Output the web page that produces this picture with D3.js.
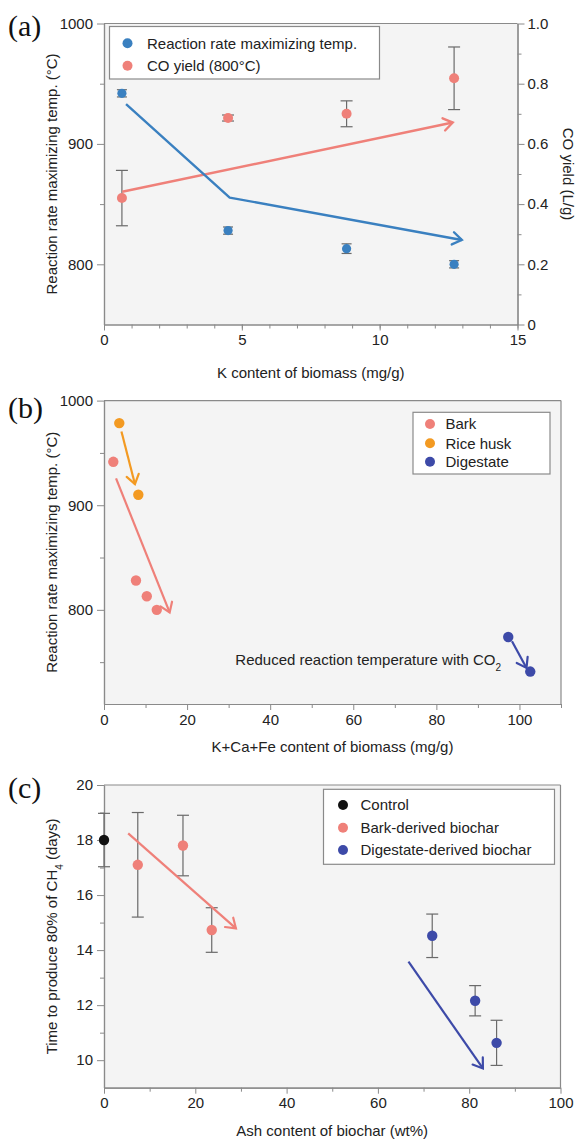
<!DOCTYPE html>
<html><head><meta charset="utf-8">
<script src="https://cdn.jsdelivr.net/npm/d3@7"></script>
<style>
body{margin:0;background:#fff;}
svg{display:block;font-family:"Liberation Sans",Arial,Helvetica,sans-serif;}
</style></head>
<body><svg id="c" width="581" height="1142"></svg>
<script>
// ---------- Panel (a) data ----------
const aK = [0.65, 4.5, 8.8, 12.7];
const aTemp = [942, 828, 813, 800];
const aTempErr = [3, 3, 4, 3];
const aCO = [0.42, 0.686, 0.70, 0.818];
const aCOErr = [0.092, 0.01, 0.043, 0.104];
const aCOArrowX = [0.66, 12.65];
const aCOArrowY = [0.441, 0.671];
const aTempArrowX = [0.8, 4.56, 12.98];
const aTempArrowY = [933, 855.4, 820.2];
const aXTicks = [0, 5, 10, 15];
const aYTicks = [800, 900, 1000];
const aY2Ticks = [0, 0.2, 0.4, 0.6, 0.8, 1.0];
const aLegend = ["Reaction rate maximizing temp.", "CO yield (800\u00B0C)"];

// ---------- Panel (b) data ----------
const bBarkX = [2.24, 7.7, 10.3, 12.7];
const bBarkY = [941.5, 828, 813, 800];
const bRiceX = [3.68, 8.26];
const bRiceY = [978.5, 910];
const bDigX = [97.3, 102.6];
const bDigY = [774, 741];
const bBarkArrowX = [2.9, 15.8], bBarkArrowY = [925.6, 797.5];
const bRiceArrowX = [4.2, 7.45], bRiceArrowY = [970.4, 920.1];
const bDigArrowX = [98.2, 101.7], bDigArrowY = [770, 744.5];
const bXTicks = [0, 20, 40, 60, 80, 100];
const bYTicks = [800, 900, 1000];
const bLegend = ["Bark", "Rice husk", "Digestate"];

// ---------- Panel (c) data ----------
const cCtrlX = [0], cCtrlY = [18.0], cCtrlErr = [0.97];
const cBarkX = [7.4, 17.3, 23.6], cBarkY = [17.1, 17.8, 14.73], cBarkErr = [1.9, 1.1, 0.81];
const cDigX = [71.9, 81.3, 86.0], cDigY = [14.52, 12.16, 10.63], cDigErr = [0.79, 0.55, 0.82];
const cBarkArrowX = [5.3, 28.9], cBarkArrowY = [18.24, 14.79];
const cDigArrowX = [66.7, 83.0], cDigArrowY = [13.58, 9.70];
const cXTicks = [0, 20, 40, 60, 80, 100];
const cYTicks = [10, 12, 14, 16, 18, 20];
const cLegend = ["Control", "Bark-derived biochar", "Digestate-derived biochar"];

// ---------- colours ----------
const BLUE = "#3a80c0", SALMON = "#ef8079", ORANGE = "#f39a22", INDIGO = "#3d4aa8", BLACK = "#111";
const AXIS = "#8a8a8a", ERR = "#6a6a6a", TXT = "#222", BG = "#f4f4f4";

const svg = d3.select("#c");
svg.append("rect").attr("width", 581).attr("height", 1142).attr("fill", "#fff");

function frame(x, y, L, R, T, B, rightLine) {
  svg.append("rect").attr("x", L).attr("y", T).attr("width", R - L).attr("height", B - T).attr("fill", BG);
  svg.append("line").attr("x1", L).attr("x2", R).attr("y1", T).attr("y2", T).attr("stroke", AXIS).attr("stroke-width", 1.2);
  if (rightLine) svg.append("line").attr("x1", R).attr("x2", R).attr("y1", T).attr("y2", B).attr("stroke", AXIS).attr("stroke-width", 1.2);
}

function styleAxis(g) {
  g.selectAll("path.domain").attr("stroke", AXIS).attr("stroke-width", 1.2);
  g.selectAll(".tick line").attr("stroke", AXIS).attr("stroke-width", 1);
  g.selectAll(".tick text").attr("fill", TXT).style("font-size", "15px").style("font-family", '"Liberation Sans",Arial,sans-serif');
}

function xAxis(x, yPos, major, minor, fmt) {
  const g = svg.append("g").attr("transform", `translate(0,${yPos})`);
  g.call(d3.axisBottom(x).tickValues(minor).tickSize(4).tickSizeOuter(0).tickFormat(""));
  const g2 = svg.append("g").attr("transform", `translate(0,${yPos})`);
  g2.call(d3.axisBottom(x).tickValues(major).tickSize(6).tickSizeOuter(0).tickPadding(4).tickFormat(fmt || d3.format("d")));
  styleAxis(g); styleAxis(g2);
}
function yAxisLeft(y, xPos, major, minor, fmt) {
  const g = svg.append("g").attr("transform", `translate(${xPos},0)`);
  g.call(d3.axisLeft(y).tickValues(minor).tickSize(4).tickSizeOuter(0).tickFormat(""));
  const g2 = svg.append("g").attr("transform", `translate(${xPos},0)`);
  g2.call(d3.axisLeft(y).tickValues(major).tickSize(7).tickSizeOuter(0).tickPadding(4).tickFormat(fmt || d3.format("d")));
  styleAxis(g); styleAxis(g2);
}
function yAxisRight(y, xPos, major, minor, fmt) {
  const g = svg.append("g").attr("transform", `translate(${xPos},0)`);
  g.call(d3.axisRight(y).tickValues(minor).tickSize(4).tickSizeOuter(0).tickFormat(""));
  const g2 = svg.append("g").attr("transform", `translate(${xPos},0)`);
  g2.call(d3.axisRight(y).tickValues(major).tickSize(7).tickSizeOuter(0).tickPadding(3).tickFormat(fmt));
  styleAxis(g); styleAxis(g2);
}

function errBars(xs, ys, es, x, y, cap) {
  xs.forEach((v, i) => {
    const cx = x(v), t = y(ys[i] + es[i]), b = y(ys[i] - es[i]);
    svg.append("line").attr("x1", cx).attr("x2", cx).attr("y1", t).attr("y2", b).attr("stroke", ERR).attr("stroke-width", 1.2);
    [t, b].forEach(yy => svg.append("line").attr("x1", cx - cap).attr("x2", cx + cap).attr("y1", yy).attr("y2", yy).attr("stroke", ERR).attr("stroke-width", 1.2));
  });
}
function dots(xs, ys, x, y, color, r) {
  svg.append("g").selectAll("circle").data(xs).join("circle")
    .attr("cx", d => x(d)).attr("cy", (d, i) => y(ys[i])).attr("r", r).attr("fill", color);
}
function arrow(xs, ys, x, y, color, w) {
  const pts = xs.map((v, i) => [x(v), y(ys[i])]);
  svg.append("path").attr("d", d3.line()(pts)).attr("fill", "none").attr("stroke", color).attr("stroke-width", w).attr("stroke-linejoin", "round");
  const [x1, y1] = pts[pts.length - 2], [x2, y2] = pts[pts.length - 1];
  const ang = Math.atan2(y2 - y1, x2 - x1), L = 11, spread = 0.6;
  const p1 = [x2 - L * Math.cos(ang - spread), y2 - L * Math.sin(ang - spread)];
  const p2 = [x2 - L * Math.cos(ang + spread), y2 - L * Math.sin(ang + spread)];
  svg.append("path").attr("d", d3.line()([p1, [x2, y2], p2])).attr("fill", "none").attr("stroke", color).attr("stroke-width", w).attr("stroke-linejoin", "miter").attr("stroke-linecap", "round");
}
function legend(x0, y0, w, h, items, colors, mx, tx, rowYs) {
  svg.append("rect").attr("x", x0).attr("y", y0).attr("width", w).attr("height", h).attr("fill", "#fff").attr("stroke", "#8a8a8a").attr("stroke-width", 1.2);
  items.forEach((t, i) => {
    svg.append("circle").attr("cx", mx).attr("cy", rowYs[i]).attr("r", 5).attr("fill", colors[i]);
    svg.append("text").attr("x", tx).attr("y", rowYs[i]).attr("dy", "0.35em").attr("fill", TXT).style("font-size", "15px").text(t);
  });
}
function panelLabel(t, x, y) {
  svg.append("text").attr("x", x).attr("y", y).style("font-family", '"Liberation Serif","Times New Roman",serif').style("font-size", "30px").attr("fill", "#111").text(t);
}
function yTitle(x, cy, parts) {
  const t = svg.append("text").attr("transform", `translate(${x},${cy}) rotate(-90)`).attr("text-anchor", "middle").attr("fill", TXT).style("font-size", "15px");
  parts.forEach(p => { const s = t.append("tspan").text(p.t); if (p.sub) s.attr("baseline-shift", "sub").style("font-size", "10px"); });
  return t;
}

// ================= Panel (a) =================
{
  const L = 104, R = 517.5, T = 23.5, B = 324.5;
  const x = d3.scaleLinear().domain([0, 15]).range([L, R]);
  const y = d3.scaleLinear().domain([750, 1000]).range([B, T]);
  const y2 = d3.scaleLinear().domain([0, 1]).range([B, T]);
  frame(x, y, L, R, T, B, false);
  xAxis(x, B, aXTicks, d3.range(0, 16, 1));
  yAxisLeft(y, L, aYTicks, [850, 950]);
  yAxisRight(y2, R, aY2Ticks, [0.1, 0.3, 0.5, 0.7, 0.9], d => d === 0 ? "0" : d3.format(".1f")(d));
  errBars(aK, aCO, aCOErr, x, y2, 6);
  errBars(aK, aTemp, aTempErr, x, y, 5);
  dots(aK, aCO, x, y2, SALMON, 5);
  dots(aK, aTemp, x, y, BLUE, 4.6);
  arrow(aCOArrowX, aCOArrowY, x, y2, SALMON, 2.4);
  arrow(aTempArrowX, aTempArrowY, x, y, BLUE, 2.4);
  legend(109.5, 26.5, 270, 52.5, aLegend, [BLUE, SALMON], 127.5, 147, [43.3, 65.7]);
  svg.append("text").attr("x", (L + R) / 2).attr("y", 378).attr("text-anchor", "middle").attr("fill", TXT).style("font-size", "15px").text("K content of biomass (mg/g)");
  yTitle(57, (T + B) / 2, [{t: "Reaction rate maximizing temp. (\u00B0C)"}]);
  svg.append("text").attr("transform", `translate(563,${(T + B) / 2}) rotate(90)`).attr("text-anchor", "middle").attr("fill", TXT).style("font-size", "15px").text("CO yield (L/g)");
  panelLabel("(a)", 8, 36);
}

// ================= Panel (b) =================
{
  const L = 104, R = 561, T = 400.6, B = 704;
  const x = d3.scaleLinear().domain([0, 110]).range([L, R]);
  const y = d3.scaleLinear().domain([710, 1000]).range([B, T]);
  frame(x, y, L, R, T, B, true);
  xAxis(x, B, bXTicks, [10, 30, 50, 70, 90, 110]);
  yAxisLeft(y, L, bYTicks, [750, 850, 950]);
  dots(bBarkX, bBarkY, x, y, SALMON, 5.2);
  dots(bRiceX, bRiceY, x, y, ORANGE, 5.2);
  dots(bDigX, bDigY, x, y, INDIGO, 5.2);
  arrow(bRiceArrowX, bRiceArrowY, x, y, ORANGE, 2.2);
  arrow(bBarkArrowX, bBarkArrowY, x, y, SALMON, 2.2);
  arrow(bDigArrowX, bDigArrowY, x, y, INDIGO, 2.2);
  legend(413, 412.3, 137, 61.7, bLegend, [SALMON, ORANGE, INDIGO], 430, 445.5, [424, 443.3, 461.7]);
  const ann = svg.append("text").attr("x", 501).attr("y", 665).attr("text-anchor", "end").attr("fill", TXT).style("font-size", "15px");
  ann.append("tspan").text("Reduced reaction temperature with CO");
  ann.append("tspan").attr("baseline-shift", "sub").style("font-size", "10px").text("2");
  svg.append("text").attr("x", (L + R) / 2).attr("y", 752).attr("text-anchor", "middle").attr("fill", TXT).style("font-size", "15px").text("K+Ca+Fe content of biomass (mg/g)");
  yTitle(57, (T + B) / 2, [{t: "Reaction rate maximizing temp. (\u00B0C)"}]);
  panelLabel("(b)", 8, 418);
}

// ================= Panel (c) =================
{
  const L = 104, R = 560.5, T = 785, B = 1087.7;
  const x = d3.scaleLinear().domain([0, 100]).range([L, R]);
  const y = d3.scaleLinear().domain([9, 20]).range([B, T]);
  frame(x, y, L, R, T, B, true);
  xAxis(x, B, cXTicks, [10, 30, 50, 70, 90]);
  yAxisLeft(y, L, cYTicks, [11, 13, 15, 17, 19]);
  errBars(cCtrlX, cCtrlY, cCtrlErr, x, y, 6);
  errBars(cBarkX, cBarkY, cBarkErr, x, y, 6);
  errBars(cDigX, cDigY, cDigErr, x, y, 6);
  dots(cCtrlX, cCtrlY, x, y, BLACK, 5.2);
  dots(cBarkX, cBarkY, x, y, SALMON, 5.2);
  dots(cDigX, cDigY, x, y, INDIGO, 5.2);
  arrow(cBarkArrowX, cBarkArrowY, x, y, SALMON, 2.2);
  arrow(cDigArrowX, cDigArrowY, x, y, INDIGO, 2.2);
  legend(323.5, 789.3, 231, 75, cLegend, [BLACK, SALMON, INDIGO], 343, 360.5, [805, 827.7, 850]);
  svg.append("text").attr("x", (L + R) / 2).attr("y", 1136).attr("text-anchor", "middle").attr("fill", TXT).style("font-size", "15px").text("Ash content of biochar (wt%)");
  yTitle(57, (T + B) / 2, [{t: "Time to produce 80% of CH"}, {t: "4", sub: true}, {t: " (days)"}]);
  panelLabel("(c)", 8, 798);
}
</script></body></html>
